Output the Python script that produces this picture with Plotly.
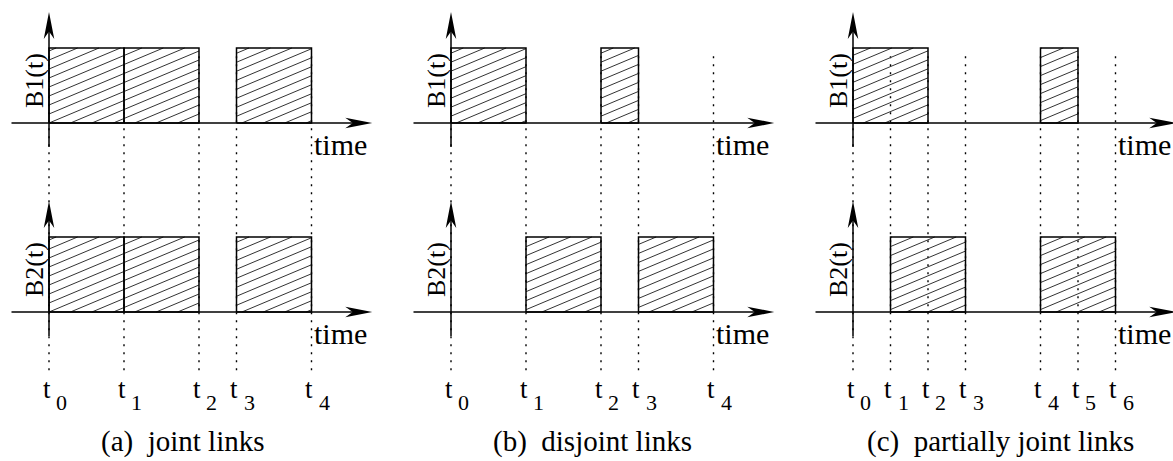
import numpy as np
import plotly.graph_objects as go

# ---- data: link activity intervals and time instants per scenario ----
captions = ["(a)\u00a0\u00a0joint links", "(b)\u00a0\u00a0disjoint links", "(c)\u00a0\u00a0partially joint links"]

a_marks = [0, 1, 2, 2.5, 3.5]
a_b1_start = [0, 1, 2.5]
a_b1_end = [1, 2, 3.5]
a_b2_start = [0, 1, 2.5]
a_b2_end = [1, 2, 3.5]

b_marks = [0, 1, 2, 2.5, 3.5]
b_b1_start = [0, 2]
b_b1_end = [1, 2.5]
b_b2_start = [1, 2.5]
b_b2_end = [2, 3.5]

c_marks = [0, 0.5, 1, 1.5, 2.5, 3, 3.5]
c_b1_start = [0, 2.5]
c_b1_end = [1, 3]
c_b2_start = [0.5, 2.5]
c_b2_end = [1.5, 3.5]

level = 1.0  # height of an active interval

panels = [
    (a_marks, a_b1_start, a_b1_end, a_b2_start, a_b2_end),
    (b_marks, b_b1_start, b_b1_end, b_b2_start, b_b2_end),
    (c_marks, c_b1_start, c_b1_end, c_b2_start, c_b2_end),
]

# ---- geometry ----
W, H = 1173, 461
PX = 75.0                 # pixels per unit on both axes
ORIGIN_PX = 49.0          # first panel's t0
SHIFT = 402.0 / PX        # horizontal distance between panels
B2_BASE_PX = 312.0
B1_BASE = 2.52            # B1 baseline above B2 baseline (units)
B2_BASE = 0.0
X_RANGE = [-ORIGIN_PX / PX, (W - ORIGIN_PX) / PX]
Y_RANGE = [-(H - B2_BASE_PX) / PX, B2_BASE_PX / PX]

SLOPE = 0.42
SPACING = 0.12
FONT = "'Liberation Serif', 'Times New Roman', Times, serif"

fig = go.Figure()
shapes = []
annotations = []

hx, hy = [], []
ex, ey = [], []
dx, dy = [], []


def hatch(xa, xb, base):
    """Diagonal hatch segments inside [xa, xb] x [base, base + level]."""
    cmin = base - SLOPE * xb
    cmax = base + level - SLOPE * xa
    k0 = int(np.floor(cmin / SPACING))
    k1 = int(np.ceil(cmax / SPACING))
    for k in range(k0, k1 + 1):
        c = k * SPACING
        lo = max(xa, (base - c) / SLOPE)
        hi = min(xb, (base + level - c) / SLOPE)
        if hi - lo > 1e-6:
            hx.extend([lo, hi, None])
            hy.extend([SLOPE * lo + c, SLOPE * hi + c, None])


def arrow_path(tx, ty, direction, length=0.36, half=0.07, notch=0.1):
    if direction == "right":
        pts = [(tx, ty), (tx - length, ty + half), (tx - length + notch, ty), (tx - length, ty - half)]
    else:
        pts = [(tx, ty), (tx - half, ty - length), (tx, ty - length + notch), (tx + half, ty - length)]
    return "M " + " L ".join(f"{x:.4f},{y:.4f}" for x, y in pts) + " Z"


for p, (marks, s1, e1, s2, e2) in enumerate(panels):
    off = p * SHIFT

    # dotted guides for every time instant
    for t in marks:
        dx.extend([off + t, off + t, None])
        dy.extend([B2_BASE - 0.775, B1_BASE + 0.93, None])

    for base, starts, ends in ((B1_BASE, s1, e1), (B2_BASE, s2, e2)):
        for xa, xb in zip(starts, ends):
            hatch(off + xa, off + xb, base)
            ex.extend([off + xa, off + xa, off + xb, off + xb, off + xa, None])
            ey.extend([base, base + level, base + level, base, base, None])

        # axes
        x_tip = off + 4.31
        y_tip = base + 1.48
        ex.extend([off - 0.5, x_tip - 0.2, None])
        ey.extend([base, base, None])
        ex.extend([off, off, None])
        ey.extend([base - 0.32, y_tip - 0.2, None])
        shapes.append(dict(type="path", path=arrow_path(x_tip, base, "right"),
                           xref="x", yref="y", fillcolor="black", line=dict(width=0)))
        shapes.append(dict(type="path", path=arrow_path(off, y_tip, "up"),
                           xref="x", yref="y", fillcolor="black", line=dict(width=0)))

        annotations.append(dict(x=off + 3.50, y=base - 0.29, text="time", showarrow=False,
                                xanchor="left", yanchor="middle",
                                font=dict(family=FONT, size=30, color="black")))
        annotations.append(dict(x=off - 0.2, y=base + 0.56,
                                text="B1(t)" if base == B1_BASE else "B2(t)",
                                textangle=-90, showarrow=False, xanchor="center", yanchor="middle",
                                font=dict(family=FONT, size=26, color="black")))

    for i, t in enumerate(marks):
        annotations.append(dict(x=off + t - 0.027, y=B2_BASE - 1.03, text="t", showarrow=False,
                                xanchor="center", yanchor="middle",
                                font=dict(family=FONT, size=27, color="black")))
        annotations.append(dict(x=off + t + 0.167, y=B2_BASE - 1.2, text=str(i), showarrow=False,
                                xanchor="center", yanchor="middle",
                                font=dict(family=FONT, size=22, color="black")))

cap_x = [1.79, 1.88, 1.96]
for p, cap in enumerate(captions):
    annotations.append(dict(x=p * SHIFT + cap_x[p], y=B2_BASE - 1.72, text=cap, showarrow=False,
                            xanchor="center", yanchor="middle",
                            font=dict(family=FONT, size=29, color="black")))

fig.add_trace(go.Scatter(x=dx, y=dy, mode="lines", hoverinfo="skip",
                         line=dict(color="black", width=1.4, dash="2px,6px")))
fig.add_trace(go.Scatter(x=hx, y=hy, mode="lines", hoverinfo="skip",
                         line=dict(color="#333333", width=1)))
fig.add_trace(go.Scatter(x=ex, y=ey, mode="lines", hoverinfo="skip",
                         line=dict(color="black", width=1.5)))

fig.update_layout(
    width=W, height=H,
    margin=dict(l=0, r=0, t=0, b=0),
    paper_bgcolor="white", plot_bgcolor="white",
    showlegend=False,
    shapes=shapes,
    annotations=annotations,
    xaxis=dict(range=X_RANGE, visible=False, fixedrange=True),
    yaxis=dict(range=Y_RANGE, visible=False, fixedrange=True),
)

fig.write_html("out.html")
